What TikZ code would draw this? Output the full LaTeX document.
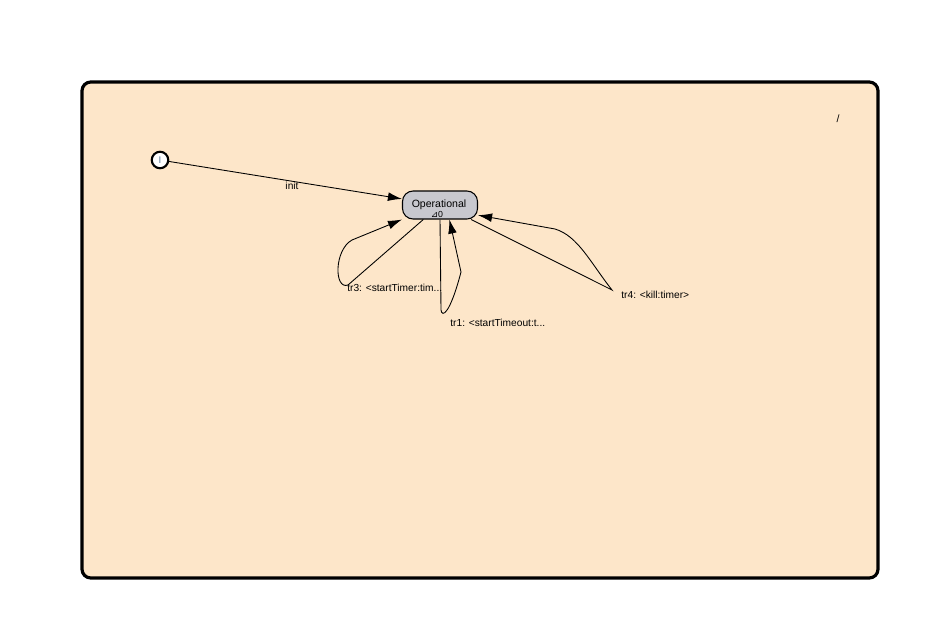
\documentclass[tikz,border=0pt]{standalone}
\usepackage{fontspec}
\setmainfont{Liberation Sans}
\newfontfamily\symfont{DejaVu Sans}
\usepackage{tikz}
\usetikzlibrary{shapes,arrows.meta,positioning,calc}

\definecolor{peach}{RGB}{253,230,201}
\definecolor{stategray}{RGB}{200,200,206}
\definecolor{initblue}{RGB}{90,120,150}

\begin{document}
\begin{tikzpicture}[x=0.02cm,y=-0.02cm,
    lbl/.style={font=\fontsize{5.8}{7}\selectfont,inner sep=0pt},
    trans/.style={-{Latex[length=8pt,width=5pt]},line width=0.5pt,black}]
      \useasboundingbox (0,0) rectangle (925,625);

      % region frame
      \draw[line width=1.8pt,rounded corners=5pt,fill=peach] (82,82) rectangle (878,578);
      \node[lbl,font=\fontsize{6}{7}\selectfont] (mark) at (838,119) {/};

      \coordinate (i) at (160,160);
      \coordinate (o) at (440,205);

      \node[circle,draw,line width=1.2pt,fill=white,minimum size=0.33cm,inner sep=0pt,
            font=\fontsize{5.5}{6}\selectfont,text=initblue] (in) at (i) {I};
      \node[draw,line width=0.6pt,rounded corners=6pt,fill=stategray,
            minimum width=1.5cm,minimum height=0.56cm,inner sep=0pt] (op) at (o) {};
      \node[lbl,font=\fontsize{6}{7}\selectfont] (opname) at (439,205) {Operational};
      \node[lbl,font=\fontsize{5}{6}\selectfont] (opmark) at (437,214) {{\symfont ⊿}0};

      % bend points of the transitions
      \coordinate (t3a) at (348,285);
      \coordinate (t3b) at (352,240);
      \coordinate (t1a) at (441,310);
      \coordinate (t1b) at (461,272);
      \coordinate (t4a) at (612,290);
      \coordinate (t4b) at (555,229);

      \draw[trans] (in) -- (op);
      \draw[trans] (op.221) -- (t3a) .. controls (334,290) and (334,250) .. (t3b) -- (op.south west);
      \draw[trans] (op.south) -- (t1a) .. controls (442,318) and (450,314) .. (t1b) -- (op.303);
      \draw[trans] (op.335) -- (t4a) .. controls (590,262) and (578,236) .. (t4b) -- (op.345);

      \node[lbl] (init) at (292,186) {init};
      \node[lbl,anchor=west] (tr3) at (347,288) {tr3: <startTimer:tim...};
      \node[lbl,anchor=west] (tr1) at (450,323) {tr1: <startTimeout:t...};
      \node[lbl,anchor=west] (tr4) at (621,295) {tr4: <kill:timer>};
    \end{tikzpicture}
\end{document}
